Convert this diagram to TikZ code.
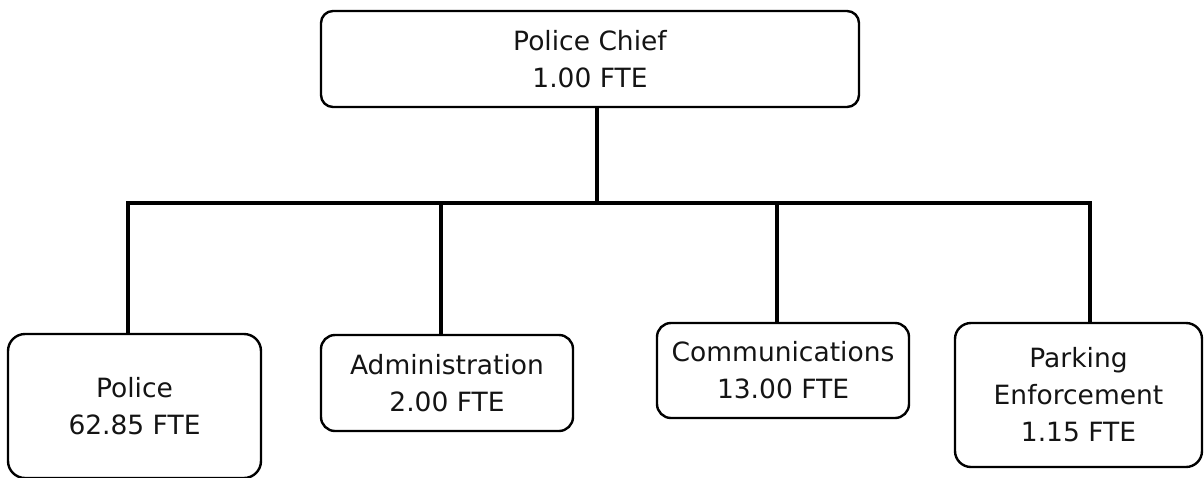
\documentclass[tikz,border=0pt]{standalone}
\usepackage{fontspec}
\setmainfont{DejaVu Sans}
\begin{document}
\begin{tikzpicture}[x=1pt,y=-1pt,
  unit/.style={draw=black, line width=2.4pt, rounded corners=14pt, align=center,
    inner sep=0pt, font=\fontsize{26.5}{37}\selectfont, text=black!92},
  link/.style={line width=4.6pt, draw=black}]
\useasboundingbox (0,0) rectangle (1204,477);

% head of department
\node[unit, rounded corners=12pt, minimum width=538pt, minimum height=96pt] (chief) at (590,59)
  {Police Chief\\1.00 FTE};

% divisions
\node[unit, rounded corners=17pt, minimum width=253pt, minimum height=144pt] (police) at (134.5,406)
  {Police\\62.85 FTE};
\node[unit, minimum width=252pt, minimum height=96pt] (admin) at (447,383)
  {Administration\\2.00 FTE};
\node[unit, minimum width=252pt, minimum height=95pt] (comm) at (783,370.5)
  {Communications\\13.00 FTE};
\node[unit, rounded corners=16pt, minimum width=247pt, minimum height=144pt] (parking) at (1078.5,395)
  {Parking\\Enforcement\\1.15 FTE};

% horizontal distribution bar
\coordinate (bus) at (597,203);
\coordinate (busL) at (128,203);
\coordinate (busR) at (1090,203);

\draw[link] (chief.south -| bus) -- (bus);
\draw[link, line cap=rect] (busL) -- (busR);
\draw[link] (busL) -- (police.north -| busL);
\draw[link] ([xshift=-6pt]admin.north |- bus) -- ([xshift=-6pt]admin.north);
\draw[link] ([xshift=-6pt]comm.north |- bus) -- ([xshift=-6pt]comm.north);
\draw[link] (busR) -- (parking.north -| busR);
\end{tikzpicture}
\end{document}
